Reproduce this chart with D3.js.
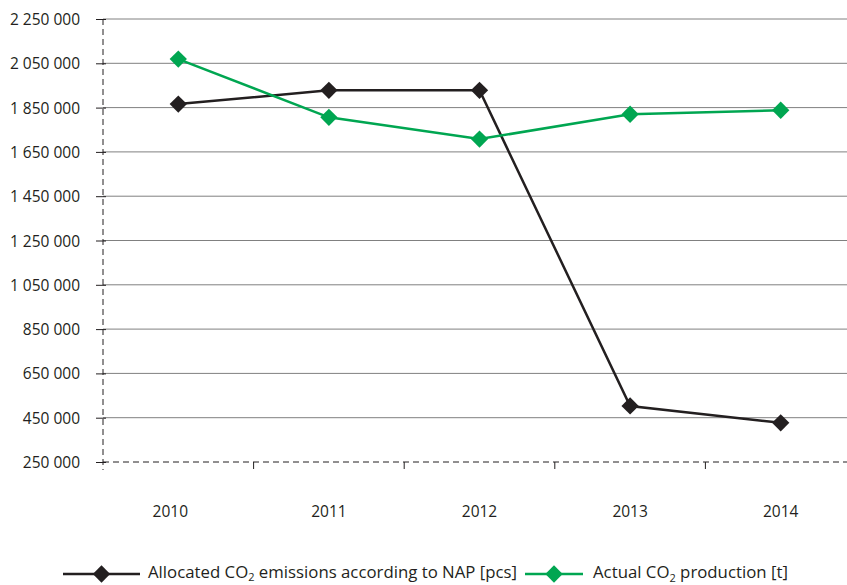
<!DOCTYPE html>
<html><head><meta charset="utf-8">
<script src="https://cdn.jsdelivr.net/npm/d3@7"></script>
<style>body{margin:0;background:#fff}svg{display:block}text{font-family:"Open Sans","Noto Sans",sans-serif;fill:#231f20}</style>
</head><body><svg id="c" width="847" height="585"></svg>
<script>
const years = ["2010","2011","2012","2013","2014"];
const allocated = [1866000, 1928000, 1928000, 503000, 427000];
const actual = [2069000, 1806000, 1708000, 1820000, 1838000];
const yTicks = [250000,450000,650000,850000,1050000,1250000,1450000,1650000,1850000,2050000,2250000];
const seriesNames = ["Allocated CO\u2082 emissions according to NAP [pcs]", "Actual CO\u2082 production [t]"];
const colors = ["#231f20", "#00a651"];

const svg = d3.select("#c");
const x = d3.scaleBand().domain(years).range([103, 856]);
const y = d3.scaleLinear().domain([250000, 2250000]).range([462, 19]);
const fmt = v => d3.format(",")(v).replace(/,/g, " ");

// gridlines
svg.append("g").selectAll("line").data(yTicks.filter(v => v > 250000)).join("line")
  .attr("x1", 103).attr("x2", 847).attr("y1", d => y(d)).attr("y2", d => y(d))
  .attr("stroke", "#808080").attr("stroke-width", 1);

// y axis
const ya = svg.append("g").attr("transform", "translate(103,0)")
  .call(d3.axisLeft(y).tickValues(yTicks).tickFormat(fmt).tickSize(7).tickPadding(16));
ya.select(".domain").remove();
ya.selectAll(".tick line").attr("stroke", "#231f20").attr("x2", -7).attr("x1", 3);
ya.selectAll(".tick text").style("font-size", "15.5px").attr("fill", "#231f20").attr("dy", "0.36em");
svg.append("line").attr("x1", 103).attr("x2", 103).attr("y1", 19).attr("y2", 470)
  .attr("stroke", "#231f20").attr("stroke-dasharray", "6,4").attr("stroke-width", 1);

// x axis
const xa = svg.append("g").attr("transform", "translate(0,462)")
  .call(d3.axisBottom(x).tickSize(0).tickPadding(0));
xa.select(".domain").remove();
xa.selectAll(".tick text").style("font-size", "15.5px").attr("fill", "#231f20")
  .attr("dy", null).attr("y", 55)
  .attr("dx", (d, i) => i === 0 ? -8 : 0);
svg.append("line").attr("x1", 103).attr("x2", 847).attr("y1", 462).attr("y2", 462)
  .attr("stroke", "#231f20").attr("stroke-dasharray", "6,4").attr("stroke-width", 1);
svg.append("g").selectAll("line").data(years.slice(1)).join("line")
  .attr("x1", d => x(d)).attr("x2", d => x(d)).attr("y1", 462).attr("y2", 469)
  .attr("stroke", "#231f20");

const diamond = d3.symbol().type(d3.symbolSquare).size(150);
const series = [allocated, actual];
series.forEach((vals, i) => {
  const line = d3.line().x((d, j) => x(years[j]) + x.bandwidth() / 2).y(d => y(d));
  svg.append("path").datum(vals).attr("d", line).attr("fill", "none")
    .attr("stroke", colors[i]).attr("stroke-width", 2.5);
  svg.append("g").selectAll("path").data(vals).join("path")
    .attr("d", diamond)
    .attr("transform", (d, j) => `translate(${x(years[j]) + x.bandwidth() / 2},${y(d)}) rotate(45)`)
    .attr("fill", colors[i]);
});

// legend
const legend = [
  {x1: 63, x2: 140, text: 148, sub: 3},
  {x1: 525, x2: 583, text: 593, sub: 4}
];
legend.forEach((l, i) => {
  const ly = 574;
  svg.append("line").attr("x1", l.x1).attr("x2", l.x2).attr("y1", ly).attr("y2", ly)
    .attr("stroke", colors[i]).attr("stroke-width", 2.5);
  svg.append("path").attr("d", diamond)
    .attr("transform", `translate(${(l.x1 + l.x2) / 2},${ly}) rotate(45)`).attr("fill", colors[i]);
  const parts = seriesNames[i].split("\u2082");
  const t = svg.append("text").attr("x", l.text).attr("y", 578).style("font-size", "16.8px");
  t.append("tspan").text(parts[0]);
  t.append("tspan").text("2").style("font-size", "11px").attr("dy", l.sub);
  t.append("tspan").text(parts[1]).attr("dy", -l.sub);
});
</script></body></html>
